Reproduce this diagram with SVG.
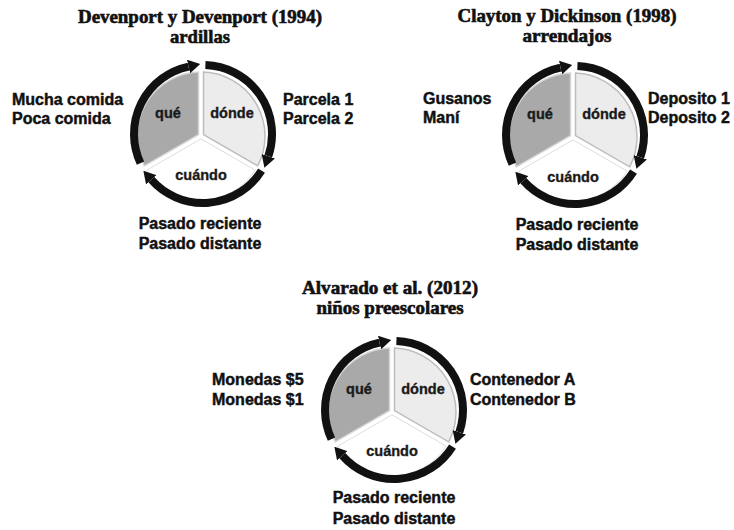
<svg xmlns="http://www.w3.org/2000/svg" width="734" height="530" viewBox="0 0 734 530">
<style>
.title{font-family:"Liberation Serif","Times New Roman",serif;font-weight:bold;font-size:18px;fill:#111;stroke:#111;stroke-width:0.6;text-anchor:middle}
.lbl{font-family:"Liberation Sans",Arial,sans-serif;font-weight:bold;font-size:16px;fill:#111;stroke:#111;stroke-width:0.45}
.mid{text-anchor:middle}
.sl{font-family:"Liberation Sans",Arial,sans-serif;font-weight:bold;font-size:14.5px;fill:#1a1a1a;stroke:#1a1a1a;stroke-width:0.35;text-anchor:middle}
.arc{fill:none;stroke:#111;stroke-width:8;marker-end:url(#ah)}
.que{fill:#a9a9a9;stroke:#d4d4d4;stroke-width:1.5}
.donde{fill:#ececec;stroke:#bdbdbd;stroke-width:1.5}
.cuando{fill:#ffffff;stroke:#dedede;stroke-width:1}
</style>
<defs>
<marker id="ah" markerUnits="userSpaceOnUse" markerWidth="12" markerHeight="14" refX="0" refY="7" orient="auto" viewBox="0 0 12 14">
<path d="M0,0 L12,7 L0,14 Z" fill="#111"/>
</marker>
</defs>

<!-- Diagram 1 -->
<g id="title1">
<text class="title" x="200" y="23" textLength="244" lengthAdjust="spacingAndGlyphs">Devenport y Devenport (1994)</text>
<text class="title" x="200" y="43" textLength="60" lengthAdjust="spacingAndGlyphs">ardillas</text>
</g>
<g id="diagram1" transform="translate(203,134)">
<g transform="translate(-2,2)">
<g id="d1-que"><path class="que" d="M-2.5,-1.443 L-56.63,29.81 A64,64 0 0 1 -2.5,-63.95 Z"/><text class="sl" x="-33" y="-18">qué</text></g>
<g id="d1-donde"><path class="donde" d="M2.5,-1.443 L2.5,-63.95 A64,64 0 0 1 56.63,29.81 Z"/><text class="sl" x="31" y="-18">dónde</text></g>
<g id="d1-cuando"><path class="cuando" d="M0,2.887 L54.13,34.14 A64,64 0 0 1 -54.13,34.14 Z"/><text class="sl" x="0" y="44">cuándo</text></g>
</g>
<g id="d1-connectors">
<path class="arc" d="M-62.53,29.16 A69,69 0 0 1 -14.5,-67.45"/>
<path class="arc" d="M2.41,-68.96 A69,69 0 0 1 65.3,22.3"/>
<path class="arc" d="M58.51,36.56 A69,69 0 0 1 -51.7,45.7"/>
</g>
</g>
<g id="d1-labels">
<text class="lbl" x="12" y="105">Mucha comida</text>
<text class="lbl" x="12" y="124">Poca comida</text>
<text class="lbl" x="283" y="105">Parcela 1</text>
<text class="lbl" x="283" y="124">Parcela 2</text>
<text class="lbl mid" x="200" y="229">Pasado reciente</text>
<text class="lbl mid" x="200" y="249">Pasado distante</text>
</g>

<!-- Diagram 2 -->
<g id="title2">
<text class="title" x="567" y="22" textLength="219" lengthAdjust="spacingAndGlyphs">Clayton y Dickinson (1998)</text>
<text class="title" x="567" y="42" textLength="89" lengthAdjust="spacingAndGlyphs">arrendajos</text>
</g>
<g id="diagram2" transform="translate(575,135)">
<g transform="translate(-2,2)">
<g id="d2-que"><path class="que" d="M-2.5,-1.443 L-56.63,29.81 A64,64 0 0 1 -2.5,-63.95 Z"/><text class="sl" x="-33" y="-18">qué</text></g>
<g id="d2-donde"><path class="donde" d="M2.5,-1.443 L2.5,-63.95 A64,64 0 0 1 56.63,29.81 Z"/><text class="sl" x="31" y="-18">dónde</text></g>
<g id="d2-cuando"><path class="cuando" d="M0,2.887 L54.13,34.14 A64,64 0 0 1 -54.13,34.14 Z"/><text class="sl" x="0" y="45">cuándo</text></g>
</g>
<g id="d2-connectors">
<path class="arc" d="M-62.53,29.16 A69,69 0 0 1 -14.5,-67.45"/>
<path class="arc" d="M2.41,-68.96 A69,69 0 0 1 65.3,22.3"/>
<path class="arc" d="M58.51,36.56 A69,69 0 0 1 -51.7,45.7"/>
</g>
</g>
<g id="d2-labels">
<text class="lbl" x="423" y="104">Gusanos</text>
<text class="lbl" x="423" y="123">Maní</text>
<text class="lbl" x="648" y="104">Deposito 1</text>
<text class="lbl" x="648" y="123">Deposito 2</text>
<text class="lbl mid" x="577" y="230">Pasado reciente</text>
<text class="lbl mid" x="577" y="250">Pasado distante</text>
</g>

<!-- Diagram 3 -->
<g id="title3">
<text class="title" x="390" y="294" textLength="176" lengthAdjust="spacingAndGlyphs">Alvarado et al. (2012)</text>
<text class="title" x="390" y="314" textLength="147" lengthAdjust="spacingAndGlyphs">niños preescolares</text>
</g>
<g id="diagram3" transform="translate(394,410)">
<g transform="translate(-2,2)">
<g id="d3-que"><path class="que" d="M-2.5,-1.443 L-56.63,29.81 A64,64 0 0 1 -2.5,-63.95 Z"/><text class="sl" x="-33" y="-18">qué</text></g>
<g id="d3-donde"><path class="donde" d="M2.5,-1.443 L2.5,-63.95 A64,64 0 0 1 56.63,29.81 Z"/><text class="sl" x="31" y="-18">dónde</text></g>
<g id="d3-cuando"><path class="cuando" d="M0,2.887 L54.13,34.14 A64,64 0 0 1 -54.13,34.14 Z"/><text class="sl" x="0" y="44">cuándo</text></g>
</g>
<g id="d3-connectors">
<path class="arc" d="M-62.53,29.16 A69,69 0 0 1 -14.5,-67.45"/>
<path class="arc" d="M2.41,-68.96 A69,69 0 0 1 65.3,22.3"/>
<path class="arc" d="M58.51,36.56 A69,69 0 0 1 -51.7,45.7"/>
</g>
</g>
<g id="d3-labels">
<text class="lbl" x="212" y="385">Monedas $5</text>
<text class="lbl" x="212" y="405">Monedas $1</text>
<text class="lbl" x="470" y="385">Contenedor A</text>
<text class="lbl" x="470" y="405">Contenedor B</text>
<text class="lbl mid" x="394" y="503">Pasado reciente</text>
<text class="lbl mid" x="394" y="524">Pasado distante</text>
</g>
</svg>
